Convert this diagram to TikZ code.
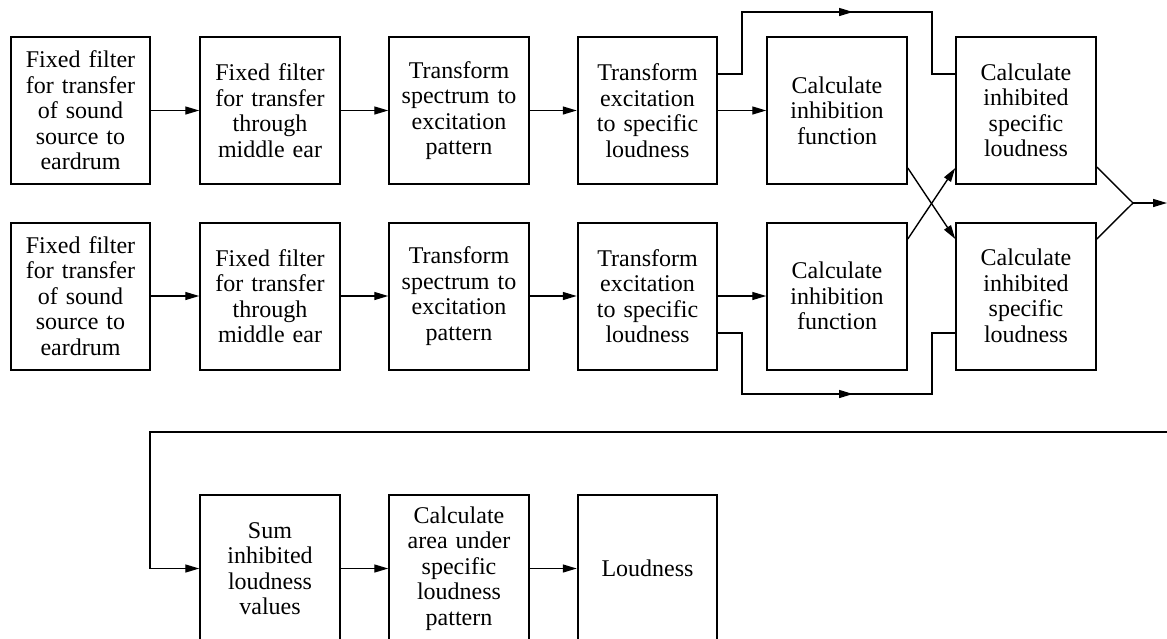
\documentclass[tikz,border=0pt]{standalone}
\usepackage{fontspec}
\setmainfont{Liberation Serif}
\usetikzlibrary{arrows.meta,calc}
\begin{document}
\begin{tikzpicture}[x=1pt,y=-1pt,
  blk/.style={draw,line width=2pt,minimum width=139.5pt,minimum height=147pt,
    inner sep=0pt,align=center,font=\fontsize{24}{25.5}\selectfont,text width=136pt},
  conn/.style={line width=1.4pt},
  arr/.style={conn,-{Triangle[length=14pt,width=8pt]}}]
\useasboundingbox (0,0) rectangle (1167,638);
\clip (0,0) rectangle (1167,638);
% row 1
\node[blk] (a1) at (80.5,110.5) {Fixed filter\\for transfer\\of sound\\source to\\eardrum};
\node[blk] (a2) at (270,110.5) {Fixed filter\\for transfer\\through\\middle ear};
\node[blk] (a3) at (459,110.5) {Transform\\spectrum to\\excitation\\pattern};
\node[blk] (a4) at (647.5,110.5) {Transform\\excitation\\to specific\\loudness};
\node[blk] (a5) at (837,110.5) {Calculate\\inhibition\\function};
\node[blk] (a6) at (1026,110.5) {Calculate\\inhibited\\specific\\loudness};
% row 2
\node[blk] (b1) at (80.5,296) {Fixed filter\\for transfer\\of sound\\source to\\eardrum};
\node[blk] (b2) at (270,296) {Fixed filter\\for transfer\\through\\middle ear};
\node[blk] (b3) at (459,296) {Transform\\spectrum to\\excitation\\pattern};
\node[blk] (b4) at (647.5,296) {Transform\\excitation\\to specific\\loudness};
\node[blk] (b5) at (837,296) {Calculate\\inhibition\\function};
\node[blk] (b6) at (1026,296) {Calculate\\inhibited\\specific\\loudness};
% row 3
\node[blk] (c1) at (270,568.5) {Sum\\inhibited\\loudness\\values};
\node[blk] (c2) at (459,568.5) {Calculate\\area under\\specific\\loudness\\pattern};
\node[blk] (c3) at (647.5,568.5) {Loudness};
% straight arrows
\foreach \p/\q in {a1/a2,a2/a3,a3/a4,a4/a5,b1/b2,b2/b3,b3/b4,b4/b5,c1/c2,c2/c3}
  \draw[arr] (\p) -- (\q);
% bypasses
\draw[arr] (a4.east |- 0,74) -- (742,74) -- (742,12) -- (853,12);
\draw[conn] (850,12) -- (932,12) -- (932,74) -- (a6.west |- 0,74);
\draw[arr] (b4.east |- 0,333) -- (742,333) -- (742,394) -- (853,394);
\draw[conn] (850,394) -- (932,394) -- (932,333) -- (b6.west |- 0,333);
% cross
\draw[arr] (a5.east |- 0,168) -- (b6.west |- 0,239);
\draw[arr] (b5.east |- 0,239) -- (a6.west |- 0,168);
% merge
\coordinate (m) at (1133,203);
\coordinate (out) at (1167,203);
\draw[conn] (a6.east |- 0,167) -- (m) -- (b6.east |- 0,239);
\draw[arr] (m) -- (out);
% loop to row 3
\coordinate (in) at (1167,432);
\draw[arr] (in) -- (150,432) |- (c1.west);
\end{tikzpicture}
\end{document}
